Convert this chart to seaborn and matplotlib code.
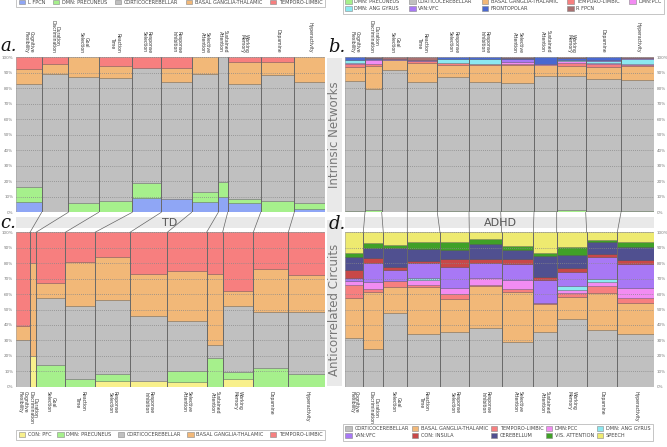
import numpy as np
import pandas as pd
import matplotlib
matplotlib.use("Agg")
import matplotlib.pyplot as plt
from matplotlib.patches import ConnectionPatch, Patch, Rectangle
from matplotlib.ticker import PercentFormatter
import seaborn as sns

# ---- data (percent of each column, stacked bottom -> top) ----
categories = ["Cognitive\nFlexibility", "Duration\nDiscrimination", "Goal\nSelection",
              "Reaction\nTime", "Response\nSelection", "Response\nInhibition",
              "Selective\nAttention", "Sustained\nAttention", "Working\nMemory",
              "Dopamine", "Hyperactivity"]

# column widths (relative share of each task)
widths_a = [25.7, 26.6, 30.4, 33.6, 29.0, 30.4, 26.6, 9.4, 33.0, 33.6, 30.7]
widths_b = [20.0, 16.7, 25.6, 30.0, 31.7, 31.7, 33.3, 22.7, 29.0, 35.3, 33.0]
widths_c = [14.0, 6.0, 29.3, 29.7, 35.0, 37.3, 39.3, 16.0, 30.7, 35.0, 36.7]
widths_d = [18.3, 20.0, 24.0, 32.7, 29.3, 32.4, 31.6, 23.4, 30.0, 30.6, 36.7]

# a. TD intrinsic networks
a_l_fpcn = [6.5, 0, 0, 0, 9.0, 8.8, 6.5, 9.7, 5.8, 0, 2.2]
a_precuneus = [10.1, 0, 6.2, 7.5, 9.7, 0, 6.8, 10.1, 2.6, 7.5, 3.6]
a_cortico = [66.2, 89.0, 80.8, 79.0, 74.3, 75.5, 75.7, 80.2, 74.4, 81.1, 78.5]
a_basal = [9.7, 7.0, 13.0, 7.9, 0, 9.0, 11.0, 0, 14.0, 8.2, 15.7]
a_temporo = [7.5, 4.0, 0, 5.6, 7.0, 6.7, 0, 0, 3.2, 3.2, 0]

# b. ADHD intrinsic networks
b_precuneus = [1.0, 1.5, 0.5, 1.0, 1.0, 1.0, 1.0, 1.0, 1.5, 1.0, 1.0]
b_cortico = [84.0, 78.1, 91.3, 83.3, 86.5, 83.3, 82.7, 87.0, 86.5, 85.0, 84.5]
b_basal = [9.0, 14.8, 6.5, 11.8, 7.5, 10.7, 11.3, 7.0, 6.5, 8.0, 9.0]
b_temporo = [1.5, 1.2, 0, 1.4, 1.5, 0.5, 1.0, 0, 2.0, 1.5, 0.5]
b_pcc = [1.0, 2.5, 0, 0, 0, 0, 1.0, 1.0, 1.0, 1.0, 0.5]
b_ang = [1.5, 0, 0, 0, 2.5, 3.5, 0, 0, 1.0, 1.0, 3.5]
b_van = [0, 1.0, 0.7, 1.0, 0, 0, 2.0, 0, 0, 1.0, 0.5]
b_frontopolar = [2.0, 0.5, 0, 0, 1.0, 1.0, 0.5, 4.0, 1.0, 1.5, 0]
b_r_fpcn = [0, 0.4, 1.0, 1.5, 0, 0, 0.5, 0, 0.5, 0, 0.5]

# c. TD anticorrelated circuits
c_con_pfc = [0, 19.9, 0, 0, 3.9, 3.7, 3.2, 0, 4.8, 0, 0]
c_precuneus = [0, 0, 14.0, 4.8, 4.1, 0, 7.2, 18.4, 4.5, 11.9, 8.2]
c_cortico = [30.2, 0, 43.2, 47.5, 48.2, 42.3, 32.4, 8.8, 43.0, 36.5, 40.2]
c_basal = [9.3, 60.1, 9.8, 28.5, 27.6, 27.0, 32.2, 45.8, 9.7, 27.6, 24.0]
c_temporo = [60.5, 20.0, 33.0, 19.2, 16.2, 27.0, 25.0, 27.0, 38.0, 24.0, 27.6]

# d. ADHD anticorrelated circuits
d_cortico = [31.7, 24.2, 48.0, 33.9, 35.2, 37.8, 29.2, 35.2, 43.6, 36.7, 33.9]
d_basal = [26.0, 37.4, 16.8, 30.9, 21.6, 27.6, 32.4, 18.1, 14.3, 23.8, 20.5]
d_temporo = [8.0, 1.4, 3.9, 1.1, 3.2, 0.4, 1.4, 0.7, 3.0, 4.7, 3.3]
d_pcc = [2.5, 5.0, 0, 3.2, 4.1, 4.4, 6.1, 0, 1.7, 2.8, 6.0]
d_ang = [0, 0, 0, 1.5, 0, 0, 0, 0, 2.6, 1.8, 0]
d_van = [2.5, 12.3, 6.9, 9.7, 13.2, 9.7, 10.2, 15.1, 9.3, 14.4, 15.6]
d_con_insula = [5.0, 2.9, 1.7, 1.3, 5.2, 2.6, 3.2, 1.7, 2.2, 1.5, 2.8]
d_cerebellum = [8.5, 6.8, 12.3, 7.4, 6.1, 9.7, 6.1, 14.1, 8.6, 7.8, 8.6]
d_vis = [2.6, 2.9, 2.2, 4.5, 4.9, 3.3, 2.8, 1.9, 5.0, 1.5, 2.8]
d_speech = [13.2, 7.1, 8.2, 6.5, 6.5, 4.5, 8.6, 13.2, 9.7, 5.0, 6.5]

palette = {
    "L FPCN": "#8fa6f5",
    "DMN: PRECUNEUS": "#a6f08c",
    "CORTICOCEREBELLAR": "#c0c0c0",
    "BASAL GANGLIA-THALAMIC": "#f2b878",
    "TEMPORO-LIMBIC": "#f77f7f",
    "DMN:PCC": "#f28cf2",
    "DMN: ANG GYRUS": "#8ce8f0",
    "VAN:VFC": "#a878f5",
    "FRONTOPOLAR": "#4a68d0",
    "R FPCN": "#a87070",
    "CON: PFC": "#f8f08c",
    "CON: INSULA": "#c84848",
    "CEREBELLUM": "#505090",
    "VIS. ATTENTION": "#40a028",
    "SPEECH": "#eeea70",
}

panel_a = {"L FPCN": a_l_fpcn, "DMN: PRECUNEUS": a_precuneus, "CORTICOCEREBELLAR": a_cortico,
           "BASAL GANGLIA-THALAMIC": a_basal, "TEMPORO-LIMBIC": a_temporo}
panel_b = {"DMN: PRECUNEUS": b_precuneus, "CORTICOCEREBELLAR": b_cortico,
           "BASAL GANGLIA-THALAMIC": b_basal, "TEMPORO-LIMBIC": b_temporo, "DMN:PCC": b_pcc,
           "DMN: ANG GYRUS": b_ang, "VAN:VFC": b_van, "FRONTOPOLAR": b_frontopolar, "R FPCN": b_r_fpcn}
panel_c = {"CON: PFC": c_con_pfc, "DMN: PRECUNEUS": c_precuneus, "CORTICOCEREBELLAR": c_cortico,
           "BASAL GANGLIA-THALAMIC": c_basal, "TEMPORO-LIMBIC": c_temporo}
panel_d = {"CORTICOCEREBELLAR": d_cortico, "BASAL GANGLIA-THALAMIC": d_basal,
           "TEMPORO-LIMBIC": d_temporo, "DMN:PCC": d_pcc, "DMN: ANG GYRUS": d_ang,
           "VAN:VFC": d_van, "CON: INSULA": d_con_insula, "CEREBELLUM": d_cerebellum,
           "VIS. ATTENTION": d_vis, "SPEECH": d_speech}

sns.set_theme(style="white")
plt.rcParams['font.family'] = ['DejaVu Sans']

W, H = 667, 447
fig = plt.figure(figsize=(W / 100, H / 100), dpi=100)


def px_rect(x0, y0, x1, y1):
    return [x0 / W, 1 - y1 / H, (x1 - x0) / W, (y1 - y0) / H]


# background bands (layout)
ov = fig.add_axes([0, 0, 1, 1], zorder=-1)
ov.set_xlim(0, W)
ov.set_ylim(H, 0)
ov.axis("off")
band = "#e9e9e9"
ov.add_patch(Rectangle((16, 217), 309, 11, color=band, lw=0))
ov.add_patch(Rectangle((345, 217), 309, 11, color=band, lw=0))
ov.add_patch(Rectangle((327, 58), 15, 154, color=band, lw=0))
ov.add_patch(Rectangle((327, 220), 15, 166, color=band, lw=0))
ov.text(170, 223, "TD", ha="center", va="center", fontsize=8, color="#555555")
ov.text(500, 223, "ADHD", ha="center", va="center", fontsize=8, color="#555555")
ov.text(335, 135, "Intrinsic Networks", rotation=90, ha="center", va="center",
        fontsize=8.5, color="#777777")
ov.text(335, 310, "Anticorrelated Circuits", rotation=90, ha="center", va="center",
        fontsize=8.5, color="#777777")


def draw_mosaic(ax, widths, data, top_labels, right_ticks):
    df = pd.DataFrame(data, index=categories)
    df = df.div(df.sum(axis=1), axis=0) * 100
    widths = np.asarray(widths)
    lefts = np.concatenate([[0], np.cumsum(widths)[:-1]])
    bottom = np.zeros(len(widths))
    for name in df.columns:
        vals = df[name].to_numpy()
        m = vals > 0
        ax.bar(lefts[m], vals[m], width=widths[m], bottom=bottom[m], align="edge",
               color=palette[name], edgecolor=(0, 0, 0, 0.3), linewidth=0.5)
        bottom += vals
    ax.vlines(np.cumsum(widths)[:-1], 0, 100, color="#6a6a6a", lw=0.7, zorder=3)
    ax.set_xlim(0, widths.sum())
    ax.set_ylim(0, 100)
    ax.set_xticks([])
    ax.set_yticks(range(0, 101, 10))
    ax.yaxis.set_major_formatter(PercentFormatter(decimals=0))
    ax.yaxis.grid(True, linestyle=(0, (1, 1.5)), color="#8a8a8a", lw=0.6)
    ax.set_axisbelow(False)
    ax.tick_params(axis="y", length=0, labelsize=3, labelcolor="#777777", pad=2)
    if right_ticks:
        ax.yaxis.tick_right()
    sns.despine(ax=ax, left=True, bottom=True)
    centers = lefts + widths / 2
    tr = ax.get_xaxis_transform()
    for cx, lab in zip(centers, categories):
        if top_labels:
            ax.text(cx, 1.03, lab, transform=tr, rotation=270, ha="center", va="bottom",
                    fontsize=3.3, color="#333333", linespacing=1.0)
        else:
            ax.text(cx, -0.03, lab, transform=tr, rotation=270, ha="center", va="top",
                    fontsize=3.3, color="#333333", linespacing=1.0)
    return np.concatenate([[0], np.cumsum(widths)])


ax_a = fig.add_axes(px_rect(16, 57.3, 325, 212.3))
ax_b = fig.add_axes(px_rect(345, 57.3, 654, 212.3))
ax_c = fig.add_axes(px_rect(16, 232.3, 325, 386.7))
ax_d = fig.add_axes(px_rect(345, 232.3, 654, 386.7))

edges_a = draw_mosaic(ax_a, widths_a, panel_a, True, False)
edges_b = draw_mosaic(ax_b, widths_b, panel_b, True, True)
edges_c = draw_mosaic(ax_c, widths_c, panel_c, False, False)
edges_d = draw_mosaic(ax_d, widths_d, panel_d, False, True)

# links between matching column boundaries of top and bottom panels
for top_ax, bot_ax, e_top, e_bot in [(ax_a, ax_c, edges_a, edges_c), (ax_b, ax_d, edges_b, edges_d)]:
    for xt, xb in zip(e_top[1:-1], e_bot[1:-1]):
        con = ConnectionPatch(xyA=(xt, 0), coordsA="data", axesA=top_ax,
                              xyB=(xb, 100), coordsB="data", axesB=bot_ax,
                              color="#666666", lw=0.5)
        fig.add_artist(con)


def legend_for(names, ncol, bbox):
    handles = [Patch(facecolor=palette[n], edgecolor="#888888", lw=0.4, label=n) for n in names]
    rows = int(np.ceil(len(names) / ncol))
    if rows > 1:
        order = []
        for c in range(ncol):
            for r in range(rows):
                i = r * ncol + c
                if i < len(names):
                    order.append(i)
        handles = [handles[i] for i in order]
    leg = fig.legend(handles=handles, ncol=ncol, loc="upper left", mode="expand",
                     bbox_to_anchor=bbox, fontsize=3.6, frameon=True, fancybox=False,
                     handlelength=1.3, handleheight=1.1, handletextpad=0.5,
                     borderpad=0.5, labelspacing=0.4, borderaxespad=0)
    leg.get_frame().set_edgecolor("#aaaaaa")
    leg.get_frame().set_linewidth(0.6)
    for t in leg.get_texts():
        t.set_color("#444444")
    return leg


legend_for(list(panel_a), 5, (16 / W, 1 - 1.5 / H, 309 / W, 0.01))
legend_for(list(panel_b), 5, (343 / W, 1 - 1 / H, 321 / W, 0.01))
legend_for(list(panel_c), 5, (16 / W, 1 - 434 / H, 309 / W, 0.01))
legend_for(list(panel_d), 5, (343 / W, 1 - 428 / H, 310 / W, 0.01))

serif = dict(fontsize=13, family="DejaVu Serif", style="italic", color="#111111", va="baseline")
fig.text(0.5 / W, 1 - 51 / H, "a.", **serif)
fig.text(328 / W, 1 - 52 / H, "b.", **serif)
fig.text(0.5 / W, 1 - 228 / H, "c.", **serif)
fig.text(329 / W, 1 - 229 / H, "d.", **serif)

fig.savefig("out.png", dpi=100)
